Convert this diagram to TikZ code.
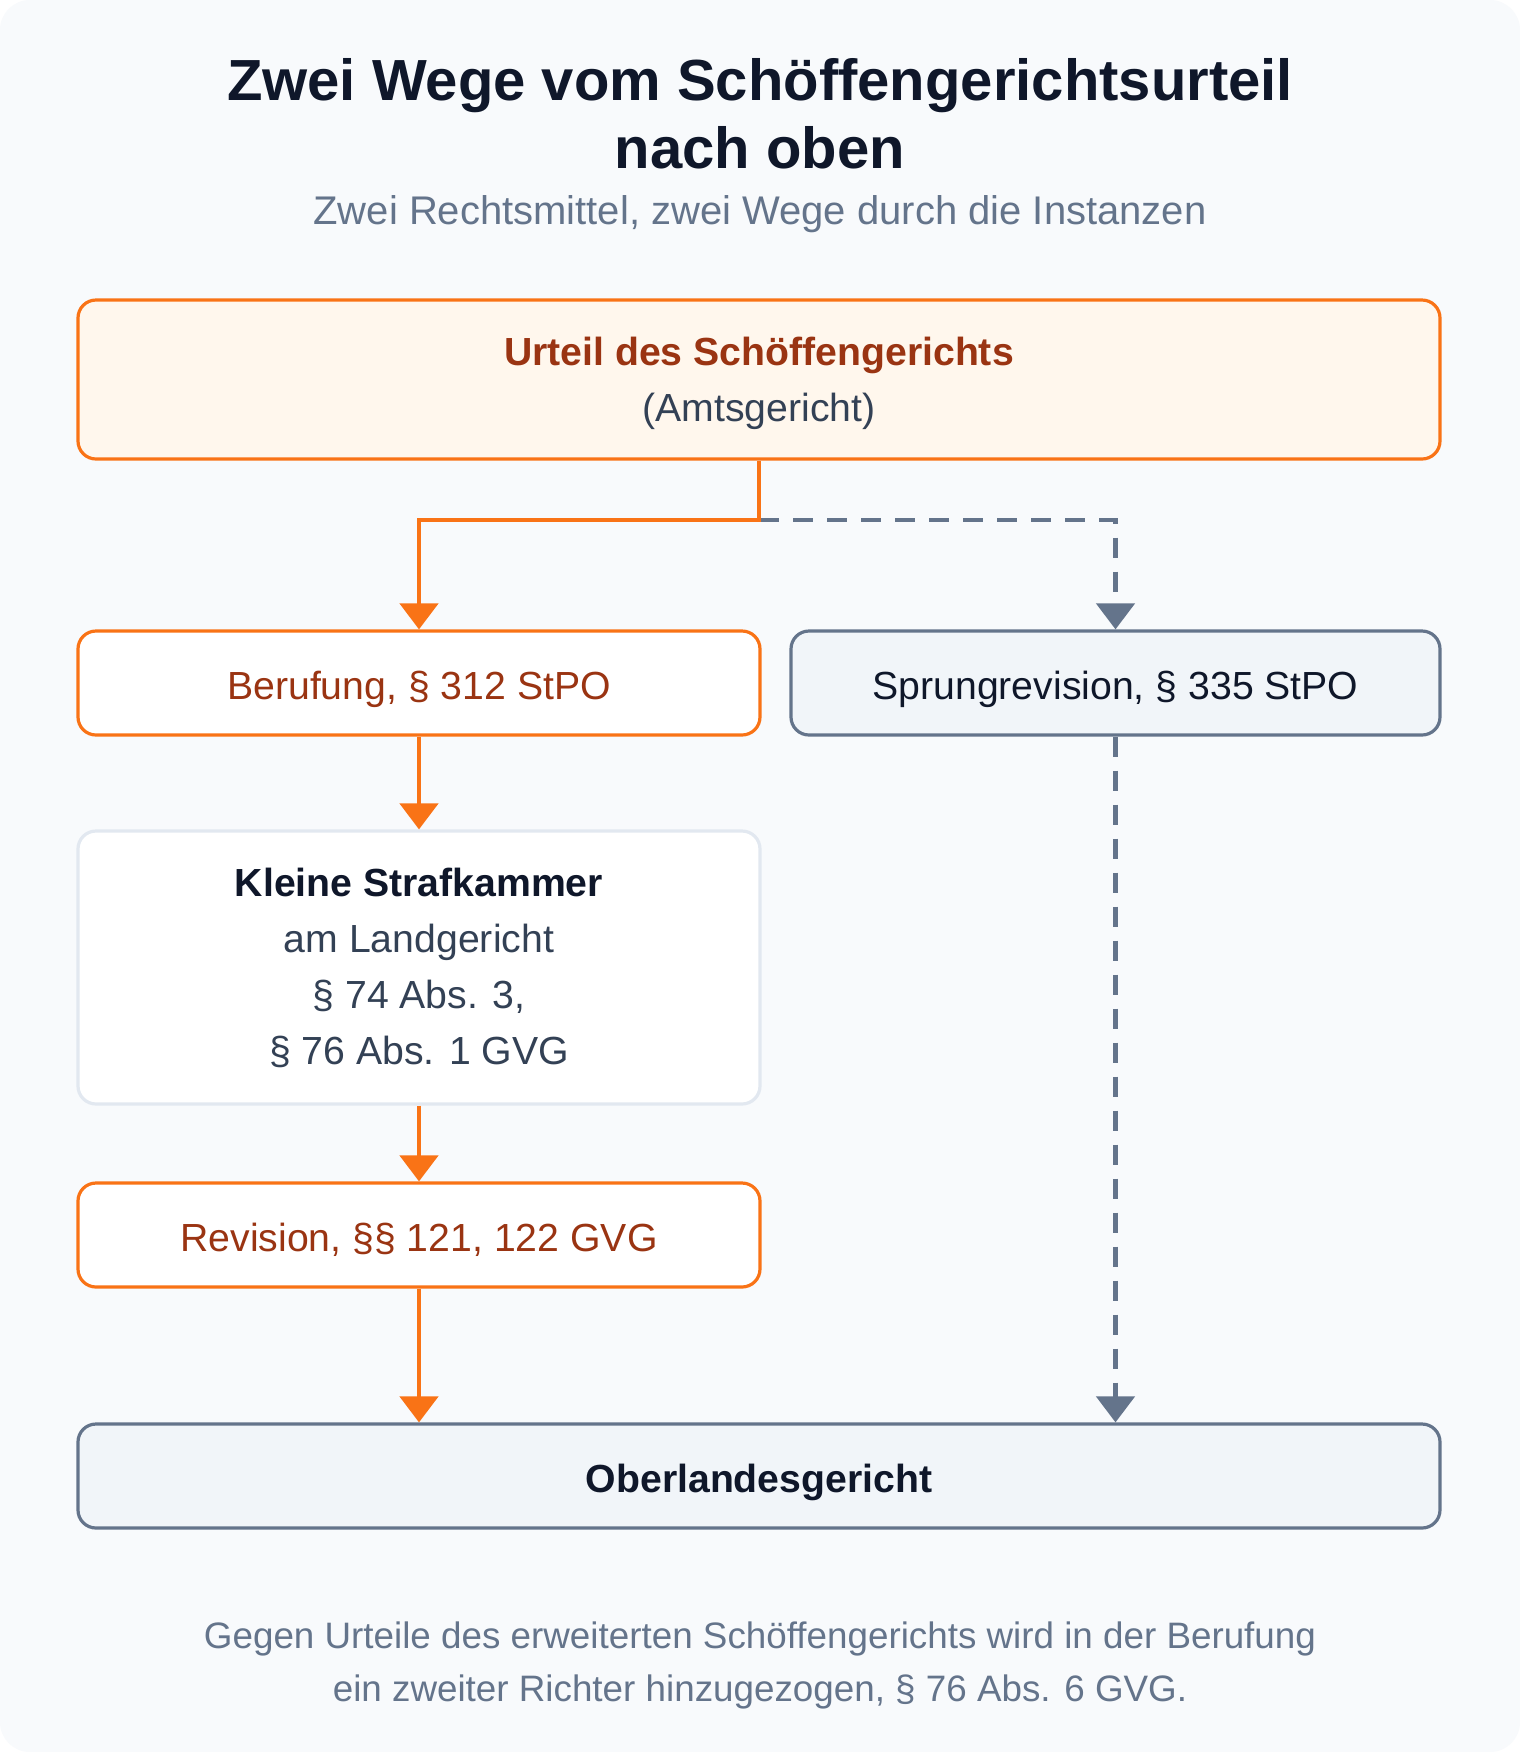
\documentclass[tikz,border=0pt]{standalone}
\usepackage{fontspec}
\setmainfont{Liberation Sans}
\usetikzlibrary{arrows.meta,positioning}

\definecolor{bgcol}{HTML}{F8FAFC}
\definecolor{ink}{HTML}{0F172A}
\definecolor{slate}{HTML}{334155}
\definecolor{muted}{HTML}{64748B}
\definecolor{orangeline}{HTML}{F97316}
\definecolor{orangetext}{HTML}{9A3412}
\definecolor{orangefill}{HTML}{FFF7ED}
\definecolor{greyfill}{HTML}{F1F5F9}
\definecolor{lightline}{HTML}{E2E8F0}

\begin{document}
\begin{tikzpicture}[x=0.5pt,y=-0.5pt,
		box/.style={rectangle, rounded corners=9pt, line width=1.6pt, inner sep=0pt,
			align=center, font=\fontsize{19.6}{28}\selectfont},
		oneline/.style={text height=16.3pt, text depth=0pt},
		courtbox/.style={box, draw=orangeline, fill=orangefill, text=orangetext},
		pathbox/.style={box, oneline, draw=orangeline, fill=white, text=orangetext},
		jumpbox/.style={box, oneline, draw=muted, fill=greyfill, text=ink},
		infobox/.style={box, draw=lightline, fill=white, text=slate},
		mainarrow/.style={draw=orangeline, line width=2.3pt,
			-{Triangle[length=13pt,width=19pt]}},
		jumparrow/.style={draw=muted, line width=2.3pt, dash pattern=on 10pt off 7pt,
			-{Triangle[length=13pt,width=19pt]}}]
	\fill[white] (0,0) rectangle (1520,1752);
	\fill[bgcol, rounded corners=15pt] (0,0) rectangle (1520,1752);
	\useasboundingbox (0,0) rectangle (1520,1752);

	% title
	\node[align=center, text=ink, font=\fontsize{29}{34}\selectfont\bfseries] (title) at (760,114)
		{Zwei Wege vom Schöffengerichtsurteil\\nach oben};
	\node[text=muted, font=\fontsize{20}{24}\selectfont] (subtitle) at (760,214.5)
		{Zwei Rechtsmittel, zwei Wege durch die Instanzen};

	% boxes
	\node[courtbox, text depth=0pt, minimum width=681pt, minimum height=79.5pt] (urteil) at (759,379.5)
		{{\bfseries Urteil des Schöffengerichts}\\{\color{slate}(Amtsgericht)}};
	\node[pathbox, minimum width=341pt, minimum height=52pt] (berufung) at (419,683)
		{Berufung, § 312 StPO};
	\node[jumpbox, minimum width=324.5pt, minimum height=52pt] (sprung) at (1115.5,683)
		{Sprungrevision, § 335 StPO};
	\node[infobox, text depth=1pt, minimum width=341pt, minimum height=136.5pt] (kammer) at (419,967.5)
		{{\bfseries\color{ink}Kleine Strafkammer}\\am Landgericht\\§ 74 Abs. 3,\\§ 76 Abs. 1 GVG};
	\node[pathbox, minimum width=341pt, minimum height=52pt] (revision) at (419,1235)
		{Revision, §§ 121, 122 GVG};
	\node[jumpbox, minimum width=681pt, minimum height=52pt, font=\fontsize{19.6}{28}\selectfont\bfseries]
		(olg) at (759,1476) {Oberlandesgericht};

	% connectors
	\coordinate (split) at (759,520);
	\draw[jumparrow] (split) -| (sprung.north);
	\draw[mainarrow] (urteil.south) -- (split) -| (berufung.north);
	\draw[mainarrow] (berufung) -- (kammer);
	\draw[mainarrow] (kammer) -- (revision);
	\draw[mainarrow] (revision) -- (olg.north -| revision);
	\draw[jumparrow] (sprung) -- (olg.north -| sprung);

	% note
	\node[align=center, text=muted, font=\fontsize{18.4}{26.5}\selectfont] (note) at (760,1665.5)
		{Gegen Urteile des erweiterten Schöffengerichts wird in der Berufung\\
		ein zweiter Richter hinzugezogen, § 76 Abs. 6 GVG.};
\end{tikzpicture}
\end{document}
